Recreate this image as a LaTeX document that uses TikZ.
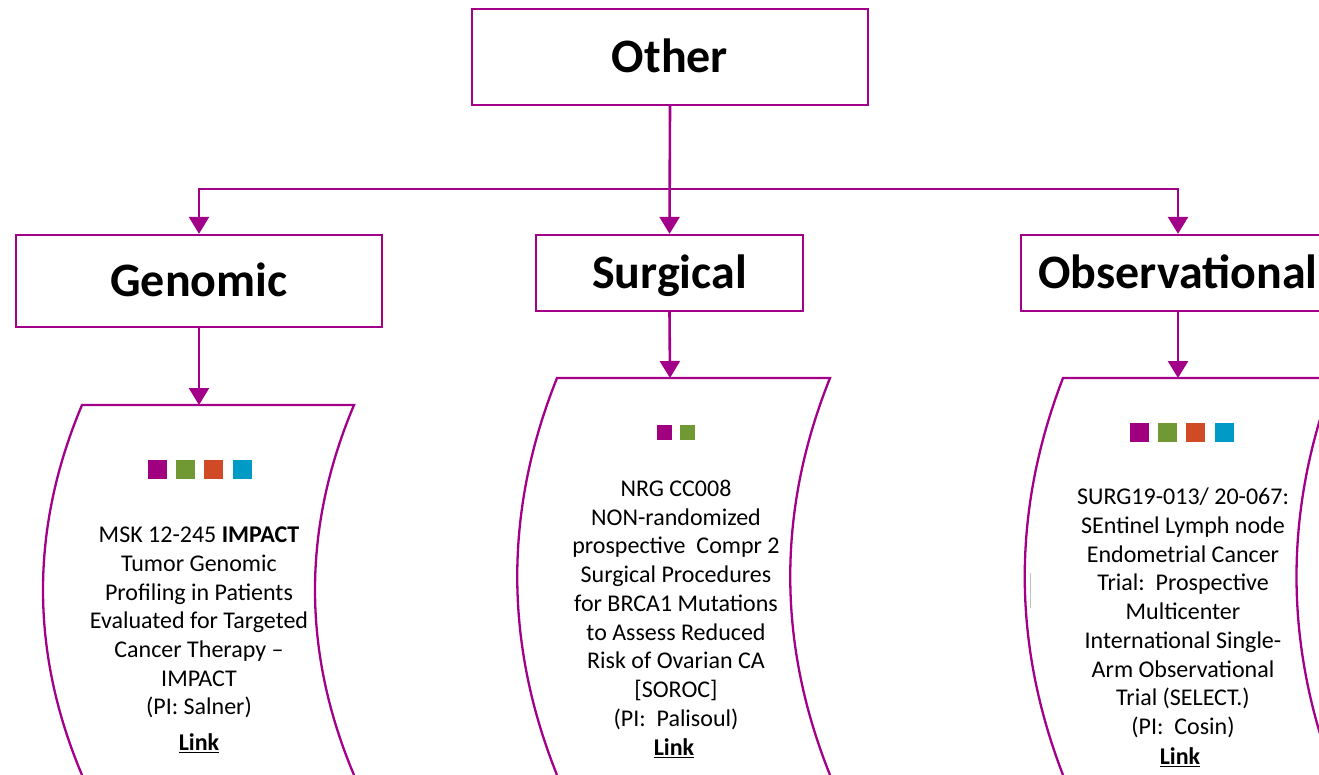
\documentclass[tikz,border=0pt]{standalone}
\usepackage{fontspec}
\setmainfont{Carlito}
\usetikzlibrary{arrows.meta}
\definecolor{lineC}{RGB}{163,0,137}
\definecolor{sqM}{RGB}{160,0,128}
\definecolor{sqG}{RGB}{112,153,52}
\definecolor{sqO}{RGB}{209,74,38}
\definecolor{sqB}{RGB}{0,154,198}
\begin{document}
\begin{tikzpicture}[x=1pt,y=-1pt,
  titlebox/.style={draw=lineC, line width=2.3pt, fill=white, inner sep=0pt,
    font=\fontsize{48}{52}\selectfont\bfseries, text height=31pt, text depth=0pt},
  conn/.style={draw=lineC, line width=2.6pt, -{Triangle[width=20pt,length=17pt]}},
  card/.style={draw=lineC, line width=2.3pt},
  cardtext/.style={align=center, inner sep=0pt, font=\fontsize{24}{28.7}\selectfont},
  linktext/.style={inner sep=0pt, anchor=base, font=\fontsize{24}{28.7}\selectfont\bfseries},
  sq/.style={inner sep=0pt, minimum size=19pt, draw=none},
  sqsmall/.style={inner sep=0pt, minimum size=15pt, draw=none}]
\useasboundingbox (0,0) rectangle (1319,775);
\fill[white] (0,0) rectangle (1319,775);

% title boxes
\node[titlebox, minimum width=396pt, minimum height=96pt] (other) at (670,57) {Other};
\node[titlebox, minimum width=366pt, minimum height=92pt] (gen) at (199,281) {Genomic};
\node[titlebox, minimum width=267pt, minimum height=76pt] (surg) at (669.5,273) {Surgical};
\node[titlebox, minimum width=314pt, minimum height=76pt] (obs) at (1178,273) {Observational};

% connectors from Other
\draw[conn] (other.south) -- ++(0,83) -| (gen.north);
\draw[conn] (other.south) -- ++(0,83) -| (obs.north);
\draw[conn] (other.south) -- (surg.north);

% cards
\draw[card] (82,775) .. controls (30,651.7) and (30,528.3) .. (82,405)
  -- (354,405) .. controls (302,528.3) and (302,651.7) .. (354,775);
\draw[card] (557,775) .. controls (504,642.7) and (504,510.3) .. (557,378)
  -- (830,378) .. controls (777,510.3) and (777,642.7) .. (830,775);
\draw[card] (1063,775) .. controls (1012,642.7) and (1012,510.3) .. (1063,378)
  -- (1334,378) .. controls (1284,510.3) and (1284,642.7) .. (1334,775);

\coordinate (gtop) at (199,405);
\coordinate (stop) at (670,378);
\coordinate (otop) at (1178,378);
\draw[conn] (gen.south) -- (gtop);
\draw[conn] (surg.south) -- (stop);
\draw[conn] (obs.south) -- (otop);

% squares
\node[sq, fill=sqM] (g1) at (157.5,469.5) {};
\node[sq, fill=sqG] (g2) at (185.5,469.5) {};
\node[sq, fill=sqO] (g3) at (213.5,469.5) {};
\node[sq, fill=sqB] (g4) at (242.5,469.5) {};
\node[sqsmall, fill=sqM] (s1) at (664.5,432.5) {};
\node[sqsmall, fill=sqG] (s2) at (687.5,432.5) {};
\node[sq, fill=sqM] (o1) at (1139.5,432.5) {};
\node[sq, fill=sqG] (o2) at (1167.5,432.5) {};
\node[sq, fill=sqO] (o3) at (1195.5,432.5) {};
\node[sq, fill=sqB] (o4) at (1224.5,432.5) {};

% card texts
\node[cardtext] (gtext) at (199,622.5) {MSK 12-245 \textbf{IMPACT}\\Tumor Genomic\\Profiling in Patients\\Evaluated for Targeted\\Cancer Therapy –\\IMPACT\\(PI: Salner)};
\node[cardtext] (stext) at (676,604.8) {NRG CC008\\NON-randomized\\prospective\ \ Compr 2\\Surgical Procedures\\for BRCA1 Mutations\\to Assess Reduced\\Risk of Ovarian CA\\{[SOROC]}\\(PI:\ \ Palisoul)};
\node[cardtext] (otext) at (1183,613) {SURG19-013/ 20-067:\\SEntinel Lymph node\\Endometrial Cancer\\Trial:\ \ Prospective\\Multicenter\\International Single-\\Arm Observational\\Trial (SELECT.)\\(PI:\ \ Cosin)};

\node[linktext] (glink) at (199,750.4) {\underline{Link}};
\node[linktext] (slink) at (674,755.4) {\underline{Link}};
\node[linktext] (olink) at (1180,764.4) {\underline{Link}};

% faint cursor mark
\draw[black!25, line width=1pt] (1030,573) -- (1030,608);
\end{tikzpicture}
\end{document}
